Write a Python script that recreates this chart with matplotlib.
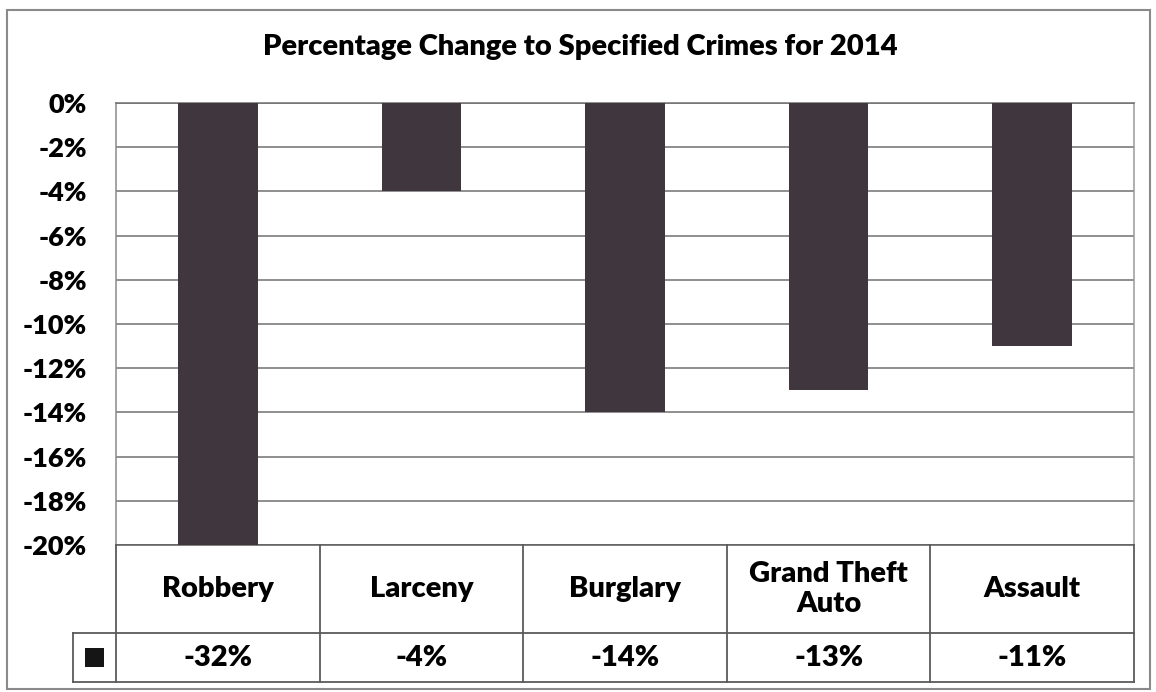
import matplotlib
matplotlib.use("Agg")
import matplotlib.pyplot as plt
from matplotlib.patches import Rectangle
from matplotlib.lines import Line2D

# Chart data
categories = ["Robbery", "Larceny", "Burglary", "Grand Theft\nAuto", "Assault"]
pct_change = [-32, -4, -14, -13, -11]
y_ticks = [0, -2, -4, -6, -8, -10, -12, -14, -16, -18, -20]
chart_title = "Percentage Change to Specified Crimes for 2014"

BAR_COLOR = "#3f363e"
GRID_COLOR = "#707070"
TABLE_COLOR = "#5a5a5a"

W, H = 1156, 692
plt.rcParams["font.family"] = ["Lato", "DejaVu Sans"]
plt.rcParams["font.weight"] = "heavy"

fig = plt.figure(figsize=(W / 100, H / 100), dpi=100)
fig.patch.set_facecolor("white")


def fx(px):
    return px / W


def fy(py):
    return 1 - py / H


# plot area in pixel bounds
L, R, T, B = 116, 1134, 103, 545
ax = fig.add_axes([fx(L), fy(B), (R - L) / W, (B - T) / H])
xpos = list(range(len(categories)))
ax.bar(xpos, pct_change, width=0.39, color=BAR_COLOR, zorder=3)
ax.set_xlim(-0.5, len(categories) - 0.5)
ax.set_ylim(min(y_ticks), max(y_ticks))
ax.set_yticks(y_ticks)
ax.set_yticklabels([f"{int(v)}%" for v in y_ticks])
ax.set_xticks([])
ax.tick_params(axis="y", length=0, pad=21, labelsize=19.5)
ax.set_axisbelow(True)
ax.yaxis.grid(True, color=GRID_COLOR, lw=1.1)
ax.spines["left"].set_color("#8a8a8a")
ax.spines["right"].set_color("#9a9a9a")
ax.spines["top"].set_color(GRID_COLOR)
ax.spines["bottom"].set_color(TABLE_COLOR)
for s in ax.spines.values():
    s.set_linewidth(1.1)

# data table beneath the plot
TB = 682
tax = fig.add_axes([fx(L), fy(TB), (R - L) / W, (TB - B) / H])
tax.set_xlim(-0.5, len(categories) - 0.5)
row_split = TB - 633          # height of the value row
table_top = TB - B
tax.set_ylim(0, table_top)
tax.axis("off")

key_left = -0.5 - (L - 73) / ((R - L) / len(categories))
lw = 1.3
tax.add_line(Line2D([key_left, len(categories) - 0.5], [0, 0], color=TABLE_COLOR, lw=lw, clip_on=False))
tax.add_line(Line2D([key_left, len(categories) - 0.5], [row_split, row_split], color=TABLE_COLOR, lw=lw, clip_on=False))
tax.add_line(Line2D([key_left, key_left], [0, row_split], color=TABLE_COLOR, lw=lw, clip_on=False))
for k in range(len(categories) + 1):
    tax.add_line(Line2D([k - 0.5, k - 0.5], [0, table_top], color=TABLE_COLOR, lw=lw, clip_on=False))

for i, (cat, val) in enumerate(zip(categories, pct_change)):
    tax.text(i, (row_split + table_top) / 2, cat, ha="center", va="center",
             fontsize=21, linespacing=1.2)
    tax.text(i, row_split / 2, f"{val}%", ha="center", va="center", fontsize=21)

# legend key in the value row
col_w = (R - L) / len(categories)
key_w = 19 / col_w
key_cx = (key_left + -0.5) / 2
tax.add_patch(Rectangle((key_cx - key_w / 2, row_split / 2 - 9.5), key_w, 19,
                        facecolor="#151515", edgecolor="none", clip_on=False))

# title and outer frame
fig.text(fx(580), fy(47), chart_title, ha="center", va="center", fontsize=21)
fig.add_artist(Rectangle((fx(7), fy(689)), (1150 - 7) / W, (689 - 10) / H,
                         transform=fig.transFigure, fill=False,
                         edgecolor="#8a8a8a", lw=1.5))

fig.savefig("out.png", dpi=100, facecolor="white")
